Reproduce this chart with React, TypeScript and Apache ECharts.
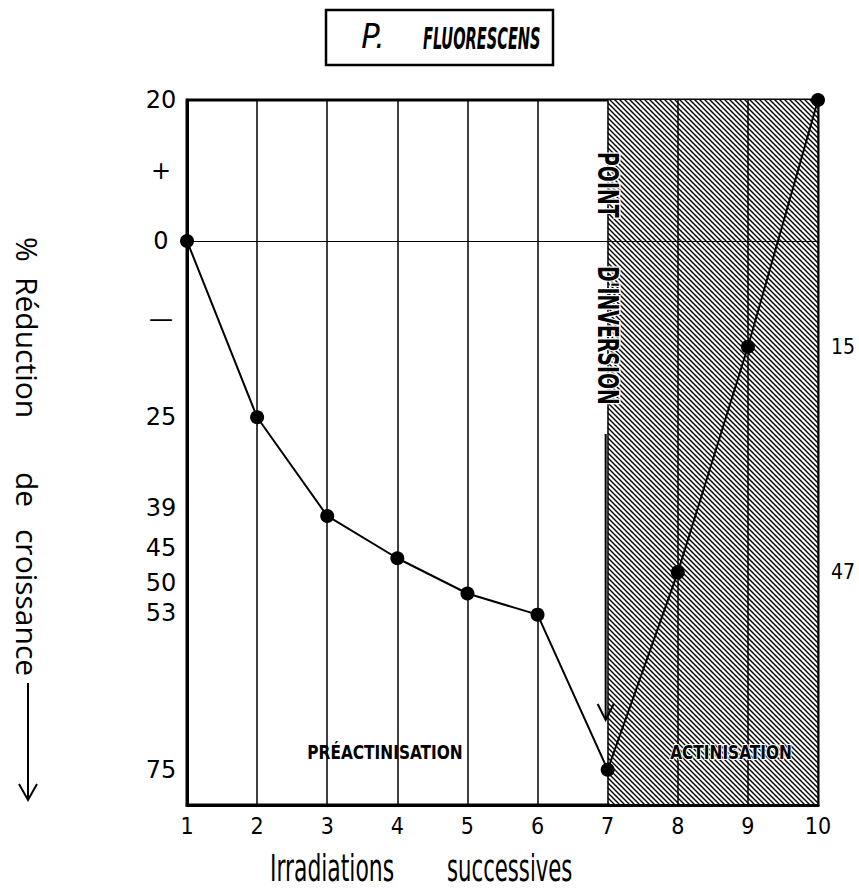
import React, { useEffect, useRef } from "react";
import * as echarts from "echarts";

// Data
const irradiations = [1, 2, 3, 4, 5, 6, 7, 8, 9, 10];
const reduction = [0, 25, 39, 45, 50, 53, 75, 47, 15, -20];
const yTickValues = [-20, -10, 0, 11, 25, 39, 45, 50, 53, 75];
const yTickLabels = ["20", "+", "0", "—", "25", "39", "45", "50", "53", "75"];
const rightLabelPoints = [8, 9]; // irradiations whose value is written at right
const actinisationRange = [7, 10];
const zeroLine = 0;

const FONT = "DejaVu Sans Condensed";
const YFONT = "DejaVu Sans";

// label nudges (style only): how far each crowded label is lifted, px
const labelLift: Record<string, number> = { "39": 8, "45": 10, "50": 11, "53": 2 };

function makeHatch(): HTMLCanvasElement {
  const s = 5;
  const c = document.createElement("canvas");
  c.width = s;
  c.height = s;
  const ctx = c.getContext("2d")!;
  ctx.fillStyle = "#fff";
  ctx.fillRect(0, 0, s, s);
  ctx.strokeStyle = "#000";
  ctx.lineWidth = 1.4;
  for (const o of [-s, 0, s]) {
    ctx.beginPath();
    ctx.moveTo(o - 1, -1);
    ctx.lineTo(o + s + 1, s + 1);
    ctx.stroke();
  }
  return c;
}

export default function App() {
  const ref = useRef<HTMLDivElement>(null);

  useEffect(() => {
    if (!ref.current) return;
    const chart = echarts.init(ref.current, null, { renderer: "svg" });
    const hatch = makeHatch();

    const rich: Record<string, any> = {
      n: { fontSize: 24, fontFamily: YFONT, color: "#000" },
    };
    Object.keys(labelLift).forEach((k) => {
      rich["l" + k] = {
        fontSize: 24,
        fontFamily: YFONT,
        color: "#000",
        padding: [0, 0, labelLift[k] * 2, 0],
      };
    });

    const option: any = {
      animation: false,
      backgroundColor: "#fff",
      grid: {
        left: 187,
        right: 41,
        top: 100,
        bottom: 87,
        show: true,
        borderColor: "#000",
        borderWidth: 3,
        backgroundColor: "transparent",
      },
      xAxis: {
        type: "value",
        min: 1,
        max: 10,
        interval: 1,
        z: 3,
        axisLine: { show: true, onZero: false, lineStyle: { color: "#000", width: 3 } },
        axisTick: { show: false },
        axisLabel: { color: "#000", fontSize: 23, fontFamily: FONT, margin: 9 },
        splitLine: { show: true, lineStyle: { color: "#000", width: 1.5 } },
      },
      yAxis: {
        type: "value",
        inverse: true,
        min: -20,
        max: 80,
        interval: 1,
        axisLine: { show: true, onZero: false, lineStyle: { color: "#000", width: 3 } },
        axisTick: { show: false },
        splitLine: { show: false },
        axisLabel: {
          interval: 0,
          align: "center",
          margin: 26,
          fontSize: 24,
          color: "#000",
          fontFamily: YFONT,
          rich,
          formatter: (v: number) => {
            const r = Math.round(v);
            if (Math.abs(v - r) > 1e-6) return "";
            const i = yTickValues.indexOf(r);
            if (i < 0) return "";
            const t = yTickLabels[i];
            return labelLift[t] ? `{l${t}|${t}}` : `{n|${t}}`;
          },
        },
      },
      series: [
        {
          type: "line",
          z: -1,
          data: [],
          silent: true,
          markArea: {
            silent: true,
            itemStyle: { color: { image: hatch, repeat: "repeat", imageWidth: 5, imageHeight: 5 } },
            data: [[{ xAxis: actinisationRange[0] }, { xAxis: actinisationRange[1] }]],
          },
        },
        {
          type: "line",
          data: irradiations.map((x, i) => [x, reduction[i]]),
          symbol: "circle",
          symbolSize: 14,
          clip: false,
          itemStyle: { color: "#000" },
          lineStyle: { color: "#000", width: 2 },
        },
      ],
    };
    chart.setOption(option);

    const px = (x: number, y: number) => chart.convertToPixel({ gridIndex: 0 }, [x, y]) as number[];

    const rightLabels = rightLabelPoints.map((p) => {
      const i = irradiations.indexOf(p);
      const pt = px(actinisationRange[1], reduction[i]);
      return {
        type: "text",
        x: pt[0] + 13,
        y: pt[1],
        style: {
          text: String(reduction[i]),
          fontSize: 21,
          fontFamily: FONT,
          fill: "#000",
          align: "left",
          verticalAlign: "middle",
        },
      };
    });

    const x7 = px(actinisationRange[0], 0)[0];
    const z0a = px(irradiations[0], zeroLine);
    const z0b = px(irradiations[irradiations.length - 1], zeroLine);

    const yTitle = (text: string, y: number) => ({
      type: "text",
      x: 27,
      y,
      rotation: -Math.PI / 2,
      style: {
        text,
        fontSize: 30,
        fontFamily: "Open Sans",
        fill: "#000",
        align: "left",
        verticalAlign: "middle",
      },
    });

    chart.setOption({
      graphic: [
        // zero line
        {
          type: "line",
          z: 1,
          shape: { x1: z0a[0], y1: Math.round(z0a[1]) + 0.5, x2: z0b[0], y2: Math.round(z0b[1]) + 0.5 },
          style: { stroke: "#000", lineWidth: 1 },
        },
        // title box
        {
          type: "rect",
          shape: { x: 326, y: 10, width: 227, height: 55 },
          style: { fill: "none", stroke: "#000", lineWidth: 2.5 },
        },
        {
          type: "text",
          x: 373,
          y: 36,
          style: {
            text: "P.",
            fontSize: 34,
            fontStyle: "italic",
            fontFamily: "DejaVu Sans Condensed",
            fill: "#000",
            align: "center",
            verticalAlign: "middle",
          },
        },
        {
          type: "text",
          x: 423,
          y: 39,
          scaleX: 0.54,
          style: {
            text: "FLUORESCENS",
            fontSize: 30,
            fontWeight: "bold",
            fontStyle: "italic",
            fontFamily: FONT,
            fill: "#000",
            align: "left",
            verticalAlign: "middle",
          },
        },
        // y axis title
        yTitle("%", 237),
        yTitle("Réduction", 277),
        yTitle("de", 472),
        yTitle("croissance", 529),
        {
          type: "line",
          shape: { x1: 28, y1: 683, x2: 28, y2: 799 },
          style: { stroke: "#000", lineWidth: 2 },
        },
        {
          type: "polyline",
          shape: { points: [[19, 784], [28, 800], [37, 784]] },
          style: { stroke: "#000", lineWidth: 2, fill: "none" },
        },
        // x axis title
        {
          type: "text",
          x: 270,
          y: 868,
          scaleX: 0.64,
          style: {
            text: "Irradiations",
            fontSize: 38,
            fontFamily: FONT,
            fill: "#000",
            align: "left",
            verticalAlign: "middle",
          },
        },
        {
          type: "text",
          x: 447,
          y: 868,
          scaleX: 0.62,
          style: {
            text: "successives",
            fontSize: 38,
            fontFamily: FONT,
            fill: "#000",
            align: "left",
            verticalAlign: "middle",
          },
        },
        // point d'inversion
        {
          type: "text",
          x: x7,
          y: 152,
          rotation: -Math.PI / 2,
          scaleX: 0.75,
          z: 10,
          style: {
            text: "POINT",
            fontSize: 28,
            fontWeight: "bold",
            fontFamily: FONT,
            fill: "#000",
            stroke: "#fff",
            lineWidth: 3,
            align: "left",
            verticalAlign: "middle",
          },
        },
        {
          type: "text",
          x: x7,
          y: 266,
          rotation: -Math.PI / 2,
          scaleX: 0.75,
          z: 10,
          style: {
            text: "D'INVERSION",
            fontSize: 28,
            fontWeight: "bold",
            fontFamily: FONT,
            fill: "#000",
            stroke: "#fff",
            lineWidth: 3,
            align: "left",
            verticalAlign: "middle",
          },
        },
        {
          type: "line",
          z: 10,
          shape: { x1: x7 - 2, y1: 434, x2: x7 - 2, y2: 719 },
          style: { stroke: "#000", lineWidth: 2 },
        },
        {
          type: "polyline",
          z: 10,
          shape: { points: [[x7 - 10, 704], [x7 - 2, 720], [x7 + 6, 704]] },
          style: { stroke: "#000", lineWidth: 2, fill: "none" },
        },
        // region labels
        {
          type: "text",
          x: 385,
          y: 752,
          scaleX: 0.9,
          style: {
            text: "PRÉACTINISATION",
            fontSize: 19,
            fontWeight: "bold",
            fontFamily: FONT,
            fill: "#000",
            align: "center",
            verticalAlign: "middle",
          },
        },
        {
          type: "text",
          x: 731,
          y: 752,
          scaleX: 0.9,
          z: 10,
          style: {
            text: "ACTINISATION",
            fontSize: 19,
            fontWeight: "bold",
            fontFamily: FONT,
            fill: "#000",
            stroke: "#fff",
            lineWidth: 2,
            align: "center",
            verticalAlign: "middle",
          },
        },
        ...rightLabels,
      ],
    });

    return () => chart.dispose();
  }, []);

  return (
    <div
      ref={ref}
      style={{ position: "fixed", left: 0, top: 0, width: 859, height: 892, background: "#fff" }}
    />
  );
}
